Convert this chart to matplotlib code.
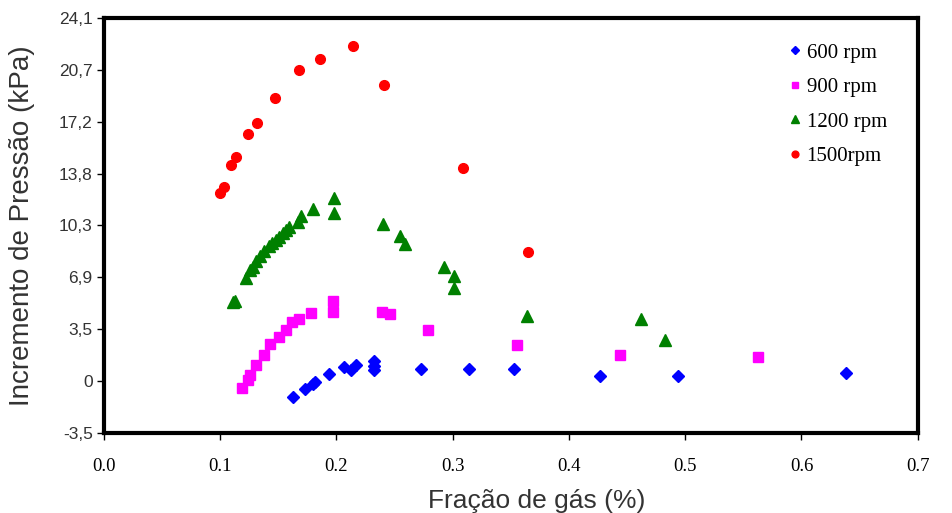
import matplotlib
matplotlib.use("Agg")
import matplotlib.pyplot as plt
import numpy as np

# Data (kPa vs gas fraction)
x600 = [0.163, 0.173, 0.180, 0.182, 0.194, 0.207, 0.213, 0.217, 0.232, 0.232, 0.232, 0.273, 0.314, 0.353, 0.427, 0.494, 0.638]
y600 = [-1.09, -0.53, -0.20, -0.07, 0.47, 0.91, 0.75, 1.04, 1.31, 1.02, 0.75, 0.80, 0.80, 0.80, 0.35, 0.35, 0.57]

x900 = [0.119, 0.124, 0.126, 0.131, 0.138, 0.143, 0.151, 0.157, 0.162, 0.168, 0.178, 0.197, 0.197, 0.239, 0.246, 0.279, 0.355, 0.444, 0.563]
y900 = [-0.47, 0.09, 0.42, 1.09, 1.75, 2.49, 2.93, 3.42, 3.91, 4.13, 4.53, 5.31, 4.57, 4.57, 4.47, 3.42, 2.37, 1.71, 1.60]

x1200 = [0.111, 0.113, 0.122, 0.126, 0.128, 0.131, 0.134, 0.138, 0.142, 0.145, 0.148, 0.151, 0.154, 0.157, 0.159,
         0.167, 0.170, 0.180, 0.198, 0.198, 0.240, 0.255, 0.259, 0.293, 0.301, 0.301, 0.364, 0.462, 0.483]
y1200 = [5.24, 5.31, 6.82, 7.37, 7.60, 7.95, 8.31, 8.64, 8.97, 9.15, 9.35, 9.60, 9.82, 10.04, 10.27,
         10.57, 10.97, 11.42, 12.15, 11.20, 10.42, 9.64, 9.09, 7.60, 6.97, 6.20, 4.35, 4.13, 2.71]

x1500 = [0.100, 0.103, 0.109, 0.114, 0.124, 0.132, 0.147, 0.168, 0.186, 0.214, 0.241, 0.309, 0.365]
y1500 = [12.53, 12.93, 14.35, 14.89, 16.42, 17.17, 18.82, 20.67, 21.42, 22.29, 19.69, 14.13, 8.57]

labels = ["600 rpm", "900 rpm", "1200 rpm", "1500rpm"]
ytick_labels = ["-3,5", "0", "3,5", "6,9", "10,3", "13,8", "17,2", "20,7", "24,1"]
xtick_labels = ["0.0", "0.1", "0.2", "0.3", "0.4", "0.5", "0.6", "0.7"]

fig = plt.figure(figsize=(9.52, 5.13), dpi=100)
ax = fig.add_axes([0.109, 0.156, 0.855, 0.809])

ax.plot(x600, y600, linestyle="none", marker="D", color="#0000FF", markersize=5.8, label=labels[0])
ax.plot(x900, y900, linestyle="none", marker="s", color="#FF00FF", markersize=6.5, label=labels[1])
ax.plot(x1200, y1200, linestyle="none", marker="^", color="#008000", markersize=8, label=labels[2])
ax.plot(x1500, y1500, linestyle="none", marker="o", color="#FF0000", markersize=7, label=labels[3])

step = 3.4474
yt = np.arange(-1, 8) * step
ax.set_ylim(yt[0], yt[-1])
ax.set_yticks(yt)
ax.set_yticklabels(ytick_labels, fontfamily="Liberation Sans", fontsize=12.5, color="#333333")
ax.set_xlim(0, 0.7)
ax.set_xticks(np.arange(8) * 0.1)
ax.set_xticklabels(xtick_labels, fontfamily="Liberation Serif", fontsize=13.5)

for s in ax.spines.values():
    s.set_linewidth(3)
    s.set_color("black")
ax.tick_params(axis="y", direction="out", length=5, width=1, pad=3)
ax.tick_params(axis="x", direction="out", length=5, width=1, pad=13)

ax.set_ylabel("Incremento de Pressão (kPa)", fontfamily="Liberation Sans", fontsize=20, color="#333333", labelpad=17)
ax.set_xlabel("Fração de gás (%)", fontfamily="Liberation Sans", fontsize=19, color="#333333", labelpad=9)
ax.xaxis.set_label_coords(0.532, -0.135)

leg = ax.legend(loc="upper right", bbox_to_anchor=(0.985, 0.985), frameon=False,
                prop={"family": "Liberation Serif", "size": 15}, handletextpad=0.05,
                handlelength=1.0, labelspacing=0.72, markerscale=0.7)

fig.savefig("out.png", dpi=100)
